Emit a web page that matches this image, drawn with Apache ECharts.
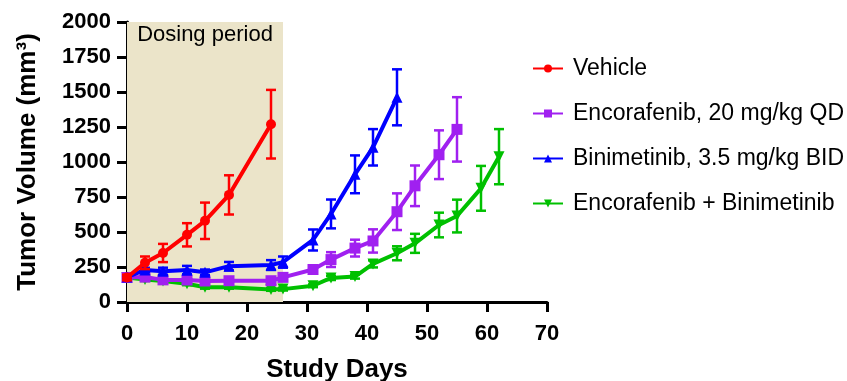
<!DOCTYPE html>
<html>
<head>
<meta charset="utf-8">
<script src="https://cdn.jsdelivr.net/npm/echarts@6/dist/echarts.min.js"></script>
<style>
  html, body { margin: 0; padding: 0; background: #fff; }
  #chart { width: 847px; height: 381px; }
</style>
</head>
<body>
<div id="chart"></div>
<script>
// values (mean, SEM)
const vehicleDays = [0, 3, 6, 10, 13, 17, 24]
const vehicleMean = [175, 280, 350, 480, 580, 765, 1270]
const vehicleErr = [20, 45, 65, 83, 130, 140, 245]

const encoDays = [0, 3, 6, 10, 13, 17, 24, 26, 31, 34, 38, 41, 45, 48, 52, 55]
const encoMean = [175, 178, 158, 157, 150, 152, 152, 176, 232, 303, 385, 436, 645, 830, 1052, 1233]
const encoErr = [10, 15, 15, 15, 15, 15, 15, 15, 25, 53, 60, 83, 131, 145, 174, 230]

const biniDays = [0, 3, 6, 10, 13, 17, 24, 26, 31, 34, 38, 41, 45]
const biniMean = [178, 229, 220, 228, 212, 256, 264, 285, 443, 629, 912, 1105, 1462]
const biniErr = [10, 15, 25, 30, 20, 30, 35, 40, 75, 103, 135, 130, 200]

const comboDays = [0, 3, 6, 10, 13, 17, 24, 26, 31, 34, 38, 41, 45, 48, 52, 55, 59, 62]
const comboMean = [175, 160, 150, 130, 105, 105, 90, 92, 116, 172, 182, 272, 348, 419, 550, 614, 812, 1038]
const comboErr = [10, 10, 10, 10, 10, 10, 10, 10, 10, 15, 15, 25, 50, 68, 88, 117, 160, 197]

const dosingStart = 0
const dosingEnd = 26

const groups = [
  { name: "Encorafenib + Binimetinib", days: comboDays, mean: comboMean, err: comboErr, color: "#00c000", symbol: "path://M0,0 L10,0 L5,9 Z" },
  { name: "Encorafenib, 20 mg/kg QD", days: encoDays, mean: encoMean, err: encoErr, color: "#a020f0", symbol: "rect" },
  { name: "Binimetinib, 3.5 mg/kg BID", days: biniDays, mean: biniMean, err: biniErr, color: "#0000ff", symbol: "triangle" },
  { name: "Vehicle", days: vehicleDays, mean: vehicleMean, err: vehicleErr, color: "#ff0000", symbol: "circle" }
]

const font = "Liberation Sans, Arial, sans-serif"
const chart = echarts.init(document.getElementById("chart"))

const series = []
groups.forEach((g, gi) => {
  // error bars
  series.push({
    name: g.name + " err",
    type: "custom",
    z: 2 + gi,
    silent: true,
    data: g.days.map((d, i) => [d, g.mean[i], g.err[i]]),
    encode: { x: 0, y: 1 },
    renderItem: (params, api) => {
      const x = api.value(0)
      const m = api.value(1)
      const e = api.value(2)
      const top = api.coord([x, m + e])
      const bot = api.coord([x, m - e])
      const cw = 5
      const style = { stroke: g.color, lineWidth: 2.5 }
      return {
        type: "group",
        children: [
          { type: "line", shape: { x1: top[0], y1: top[1], x2: bot[0], y2: bot[1] }, style },
          { type: "line", shape: { x1: top[0] - cw, y1: top[1], x2: top[0] + cw, y2: top[1] }, style },
          { type: "line", shape: { x1: bot[0] - cw, y1: bot[1], x2: bot[0] + cw, y2: bot[1] }, style }
        ]
      }
    }
  })
  // mean line
  series.push({
    name: g.name,
    type: "line",
    z: 2 + gi,
    data: g.days.map((d, i) => [d, g.mean[i]]),
    symbol: g.symbol,
    symbolSize: g.symbol === "circle" ? 10 : 11,
    showAllSymbol: true,
    lineStyle: { color: g.color, width: 4 },
    itemStyle: { color: g.color },
    emphasis: { disabled: true },
    markArea: gi === 0 ? {
      silent: true,
      itemStyle: { color: "#ebe4c9" },
      label: {
        show: true,
        position: "insideTop",
        distance: 2,
        color: "#000",
        fontSize: 22,
        fontFamily: font
      },
      data: [[{ name: "Dosing period", xAxis: dosingStart, yAxis: 0 }, { xAxis: dosingEnd, yAxis: 2000 }]]
    } : undefined
  })
})

const option = {
  animation: false,
  grid: { left: 127, right: 300, top: 22, bottom: 79, containLabel: false, outerBoundsMode: "none" },
  legend: {
    orient: "vertical",
    left: 527,
    top: 52,
    itemWidth: 30,
    itemHeight: 10,
    itemGap: 22,
    data: ["Vehicle", "Encorafenib, 20 mg/kg QD", "Binimetinib, 3.5 mg/kg BID", "Encorafenib + Binimetinib"],
    textStyle: { fontSize: 23, fontFamily: font, color: "#000", padding: [0, 0, 0, 5] }
  },
  xAxis: {
    type: "value",
    min: 0,
    max: 70,
    interval: 10,
    name: "Study Days",
    nameLocation: "middle",
    nameGap: 55,
    nameTextStyle: { fontSize: 26, fontWeight: "bold", fontFamily: font, color: "#000" },
    axisLine: { show: true, lineStyle: { color: "#000", width: 3 } },
    axisTick: { show: true, length: 10, lineStyle: { color: "#000", width: 3 } },
    axisLabel: { fontSize: 22, fontWeight: "bold", fontFamily: font, color: "#000", margin: 21 },
    splitLine: { show: false }
  },
  yAxis: {
    type: "value",
    min: 0,
    max: 2000,
    interval: 250,
    name: "Tumor Volume (mm³)",
    nameLocation: "middle",
    nameGap: 86,
    nameTextStyle: { fontSize: 26, fontWeight: "bold", fontFamily: font, color: "#000" },
    axisLine: { show: true, lineStyle: { color: "#000", width: 3 } },
    axisTick: { show: true, length: 10, lineStyle: { color: "#000", width: 3 } },
    axisLabel: { fontSize: 22, fontWeight: "bold", fontFamily: font, color: "#000", margin: 16, formatter: v => String(v) },
    splitLine: { show: false }
  },
  series: series
}
chart.setOption(option)
</script>
</body>
</html>
